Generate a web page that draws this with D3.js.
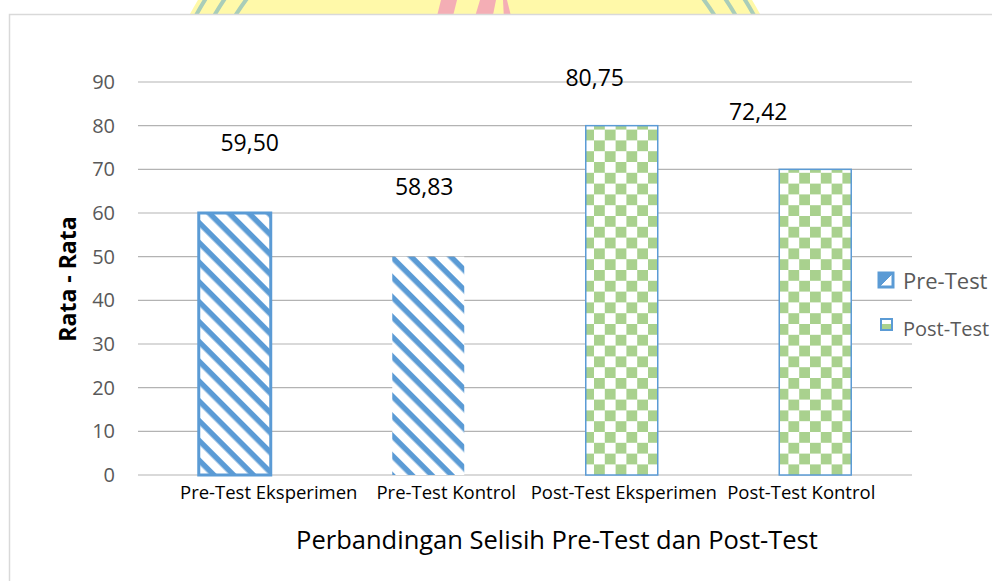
<!DOCTYPE html>
<html>
<head>
<meta charset="utf-8">
<script src="https://cdn.jsdelivr.net/npm/d3@7"></script>
<style>
  html, body { margin: 0; padding: 0; background: #fff; }
  svg { display: block; font-family: "Open Sans", "Noto Sans", sans-serif; }
</style>
</head>
<body>
<svg id="chart" width="992" height="581"></svg>
<script>
// ---- data ----
const categories = ["Pre-Test Eksperimen", "Pre-Test Kontrol", "Post-Test Eksperimen", "Post-Test Kontrol"];
const barValues = [60, 50, 80, 70];
const labelTexts = ["59,50", "58,83", "80,75", "72,42"];
const barSeries = ["Pre-Test", "Pre-Test", "Post-Test", "Post-Test"];
const yTicks = [0, 10, 20, 30, 40, 50, 60, 70, 80, 90];
const legendItems = ["Pre-Test", "Post-Test"];
const yTitle = "Rata - Rata";
const xTitle = "Perbandingan Selisih Pre-Test dan Post-Test";

// ---- layout ----
const W = 992, H = 581;
const plot = { left: 138, right: 912, top: 82, bottom: 475 };
const frame = { left: 9.5, top: 14.5 };

const svg = d3.select("#chart");
const defs = svg.append("defs");

// patterns
const diag = defs.append("pattern").attr("id", "diag")
  .attr("patternUnits", "userSpaceOnUse").attr("width", 14).attr("height", 14)
  .attr("patternTransform", "rotate(45)");
diag.append("rect").attr("width", 14).attr("height", 14).attr("fill", "#fff");
diag.append("rect").attr("width", 14).attr("height", 5.5).attr("fill", "#5b9bd5");

const cs = 10.8;
const check = defs.append("pattern").attr("id", "check")
  .attr("patternUnits", "userSpaceOnUse").attr("width", cs * 2).attr("height", cs * 2);
check.append("rect").attr("width", cs * 2).attr("height", cs * 2).attr("fill", "#fff");
check.append("rect").attr("width", cs).attr("height", cs).attr("fill", "#a9d18e");
check.append("rect").attr("x", cs).attr("y", cs).attr("width", cs).attr("height", cs).attr("fill", "#a9d18e");

// legend sample fills
const preSample = defs.append("linearGradient").attr("id", "preSample")
  .attr("x1", 0).attr("y1", 0).attr("x2", 1).attr("y2", 1);
preSample.append("stop").attr("offset", "0.5").attr("stop-color", "#5b9bd5");
preSample.append("stop").attr("offset", "0.5").attr("stop-color", "#ffffff");
const postSample = defs.append("linearGradient").attr("id", "postSample")
  .attr("x1", 0).attr("y1", 0).attr("x2", 0).attr("y2", 1);
postSample.append("stop").attr("offset", "0.5").attr("stop-color", "#ffffff");
postSample.append("stop").attr("offset", "0.5").attr("stop-color", "#a9d18e");

// watermark (logo fragment above chart frame)
defs.append("clipPath").attr("id", "wm").append("rect")
  .attr("x", 0).attr("y", 0).attr("width", W).attr("height", frame.top);
const wm = svg.append("g").attr("clip-path", "url(#wm)");
const wc = { cx: 475, cy: 168, r: 324 };
wm.append("circle").attr("cx", wc.cx).attr("cy", wc.cy).attr("r", wc.r).attr("fill", "#fff9a9");
[6, 22, 40].forEach(o => {
  wm.append("circle").attr("cx", wc.cx).attr("cy", wc.cy).attr("r", wc.r - o)
    .attr("fill", "none").attr("stroke", "#a9cdb9").attr("stroke-width", 4);
});
wm.append("rect").attr("x", 260).attr("y", 0).attr("width", 430).attr("height", frame.top).attr("fill", "#fff9a9");
wm.append("path").attr("d", "M436,20 L441,0 L457,0 L452,20 Z").attr("fill", "#f4aeb5");
wm.append("path").attr("d", "M474,20 L480,0 L496,0 L492,20 Z").attr("fill", "#f4aeb5");
wm.append("path").attr("d", "M504,20 L503,0 L507,0 L512,20 Z").attr("fill", "#f4aeb5");

// chart area background + frame
svg.append("rect").attr("x", frame.left).attr("y", frame.top)
  .attr("width", W - frame.left).attr("height", H - frame.top).attr("fill", "#fff");
svg.append("path")
  .attr("d", `M${frame.left},${H} V${frame.top} H${W}`)
  .attr("fill", "none").attr("stroke", "#d9d9d9").attr("stroke-width", 1.5);

// scales
const x = d3.scaleBand().domain(categories).range([plot.left, plot.right]);
const xLab = d3.scaleBand().domain(categories).range([180, 890]);
const y = d3.scaleLinear().domain([0, 90]).range([plot.bottom, plot.top]);
const barW = x.bandwidth() * 0.372;

// gridlines
svg.append("g").selectAll("line").data(yTicks).join("line")
  .attr("x1", plot.left).attr("x2", plot.right)
  .attr("y1", d => y(d)).attr("y2", d => y(d))
  .attr("stroke", "#b3b3b3").attr("stroke-width", 1.2);

// y axis labels
const yAxis = d3.axisLeft(y).tickValues(yTicks).tickSize(0).tickPadding(0).tickFormat(d3.format("d"));
const yg = svg.append("g").attr("transform", `translate(115,0)`).call(yAxis);
yg.select(".domain").remove();
yg.selectAll("text").attr("font-size", 20).attr("fill", "#595959")
  .attr("font-family", "'Open Sans', sans-serif");

// bars
const fillOf = s => s === "Pre-Test" ? "url(#diag)" : "url(#check)";
const strokeW = [3, 0, 1.5, 1.5];
svg.append("g").selectAll("rect").data(categories).join("rect")
  .attr("x", d => x(d) + (x.bandwidth() - barW) / 2)
  .attr("width", barW)
  .attr("y", (d, i) => y(barValues[i]))
  .attr("height", (d, i) => y(0) - y(barValues[i]))
  .attr("fill", (d, i) => fillOf(barSeries[i]))
  .attr("stroke", (d, i) => strokeW[i] ? "#5b9bd5" : "none")
  .attr("stroke-width", (d, i) => strokeW[i]);

// data labels (manually placed in original)
const lblDx = [15, -4, -27, -57];
const lblDy = [70, 70, 48, 57];
svg.append("g").selectAll("text").data(categories).join("text")
  .attr("x", (d, i) => x(d) + x.bandwidth() / 2 + lblDx[i])
  .attr("y", (d, i) => y(barValues[i]) - lblDy[i])
  .attr("dy", "0.35em")
  .attr("text-anchor", "middle")
  .attr("font-size", 23).attr("fill", "#000")
  .text((d, i) => labelTexts[i]);

// category labels
svg.append("g").selectAll("text").data(categories).join("text")
  .attr("x", d => xLab(d) + xLab.bandwidth() / 2)
  .attr("y", 493).attr("dy", "0.35em")
  .attr("text-anchor", "middle")
  .attr("font-size", 18.5).attr("fill", "#000")
  .text(d => d);

// axis titles
svg.append("text")
  .attr("transform", "translate(68,279) rotate(-90)")
  .attr("dy", "0.35em").attr("text-anchor", "middle")
  .attr("font-size", 23).attr("font-weight", "bold").attr("fill", "#000")
  .text(yTitle);
svg.append("text")
  .attr("x", 557).attr("y", 540).attr("dy", "0.35em")
  .attr("text-anchor", "middle").attr("font-size", 25.5).attr("fill", "#000")
  .text(xTitle);

// legend
const leg = svg.append("g");
const legMarker = [{ x: 879, y: 273, s: 14 }, { x: 881, y: 319, s: 11 }];
const legFill = ["url(#preSample)", "url(#postSample)"];
const legFont = [22, 20];
const legY = [281, 329];
legendItems.forEach((name, i) => {
  const m = legMarker[i];
  leg.append("rect").attr("x", m.x).attr("y", m.y).attr("width", m.s).attr("height", m.s)
    .attr("fill", legFill[i]).attr("stroke", "#5b9bd5").attr("stroke-width", i === 0 ? 3 : 2);
  leg.append("text").attr("x", 903).attr("y", legY[i]).attr("dy", "0.35em")
    .attr("font-size", legFont[i]).attr("fill", "#595959").text(name);
});
</script>
</body>
</html>
